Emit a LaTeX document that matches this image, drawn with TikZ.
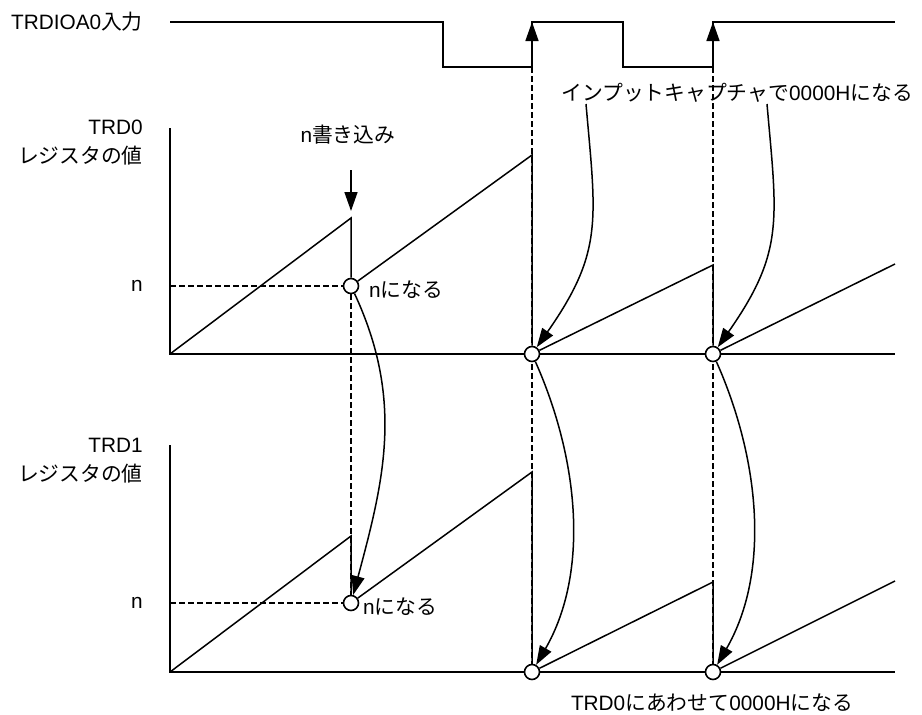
\documentclass[tikz,border=0pt]{standalone}
\usepackage{fontspec}
\setmainfont{Liberation Sans}
\newfontfamily\jp{Noto Sans CJK JP}
\usetikzlibrary{positioning, arrows.meta}

\begin{document}
\begin{tikzpicture}[x=1pt, y=-1pt,
  axis/.style={line width=2pt},
  wave/.style={line width=2pt},
  ramp/.style={line width=1.5pt},
  guide/.style={line width=2.2pt, dash pattern=on 6pt off 3pt},
  arrow/.style={-{Triangle[length=19pt, width=13pt]}, line width=1.5pt},
  capt/.style={circle, draw, fill=white, line width=1.6pt, minimum size=15pt, inner sep=0pt},
  lbl/.style={font=\fontsize{20.8}{29}\selectfont, inner sep=0pt, align=right}
]

  \useasboundingbox (0,0) rectangle (922,715);

  % Key points
  \coordinate (e1) at (532,67);  \coordinate (e1t) at (532,22);
  \coordinate (e2) at (713,67);  \coordinate (e2t) at (713,22);
  \coordinate (n0p) at (351,286); \coordinate (n1p) at (351,603);
  \coordinate (z1p) at (532,354); \coordinate (z2p) at (713,354);
  \coordinate (w1p) at (532,672); \coordinate (w2p) at (713,672);
  \coordinate (n0ax) at (170,286); \coordinate (n1ax) at (170,603);

  % TRDIOA0 input
  \node[lbl, anchor=east] (inlbl) at (143,22) {TRDIOA0{\jp 入力}};
  \draw[wave] (170,22) -| (443,67) -| (e1t) -| (623,67) -| (e2t) -- (895,22);

  % Axes
  \node[lbl, anchor=east] (t0lbl) at (143,143) {TRD0\\{\jp レジスタの値}};
  \draw[axis] (170,128) -- (170,354) -- (895,354);
  \node[lbl, anchor=east] (t1lbl) at (143,461) {TRD1\\{\jp レジスタの値}};
  \draw[axis] (170,445) -- (170,672) -- (895,672);

  % Guide lines
  \draw[guide] (n0ax) -- (n0p) -- (n1p);
  \draw[guide] (n1ax) -- (n1p);
  \draw[guide] (e1) -- (w1p);
  \draw[guide] (e2) -- (w2p);
  \node[lbl, anchor=east] (n0lbl) at (143,286) {n};
  \node[lbl, anchor=east] (n1lbl) at (143,603) {n};

  % Capture points
  \node[capt] (n0) at (n0p) {};
  \node[capt] (n1) at (n1p) {};
  \node[capt] (z1) at (z1p) {};
  \node[capt] (z2) at (z2p) {};
  \node[capt] (w1) at (w1p) {};
  \node[capt] (w2) at (w2p) {};

  % TRD0 count
  \draw[ramp] (170,354) -- (351,218) -- (n0);
  \draw[ramp] (n0) -- (532,155) -- (z1);
  \draw[ramp] (z1) -- (713,265) -- (z2);
  \draw[ramp] (z2) -- (895,264);

  % TRD1 count
  \draw[ramp] (170,672) -- (351,536) -- (n1);
  \draw[ramp] (n1) -- (532,472) -- (w1);
  \draw[ramp] (w1) -- (713,582) -- (w2);
  \draw[ramp] (w2) -- (895,581);

  % Capture edges
  \draw[arrow] (e1) -- (e1t);
  \draw[arrow] (e2) -- (e2t);

  % Write n
  \node[lbl] (wrlbl) at (348,135) {n{\jp 書き込み}};
  \coordinate (wr) at (351,170);
  \coordinate (wrtip) at (351,211);
  \draw[arrow] (wr) -- (wrtip);
  \node[lbl, anchor=west] (n0txt) at (369,290) {n{\jp になる}};
  \node[lbl, anchor=west] (n1txt) at (363,607) {n{\jp になる}};
  \draw[arrow] (n0) to[out=-65, in=75] (n1);

  % Input capture
  \node[lbl, anchor=west] (caplbl) at (561,93) {{\jp インプットキャプチャで}0000H{\jp になる}};
  \coordinate (c1) at (586,104);
  \coordinate (c2) at (767,104);
  \draw[arrow] (c1) to[out=-85, in=55, looseness=1.2] (z1);
  \draw[arrow] (c2) to[out=-85, in=55, looseness=1.2] (z2);

  % TRD1 follows TRD0
  \draw[arrow] (z1) to[out=-66, in=60, looseness=0.9] (w1);
  \draw[arrow] (z2) to[out=-66, in=60, looseness=0.9] (w2);
  \node[lbl] (synclbl) at (712,703) {TRD0{\jp にあわせて}0000H{\jp になる}};

\end{tikzpicture}
\end{document}
